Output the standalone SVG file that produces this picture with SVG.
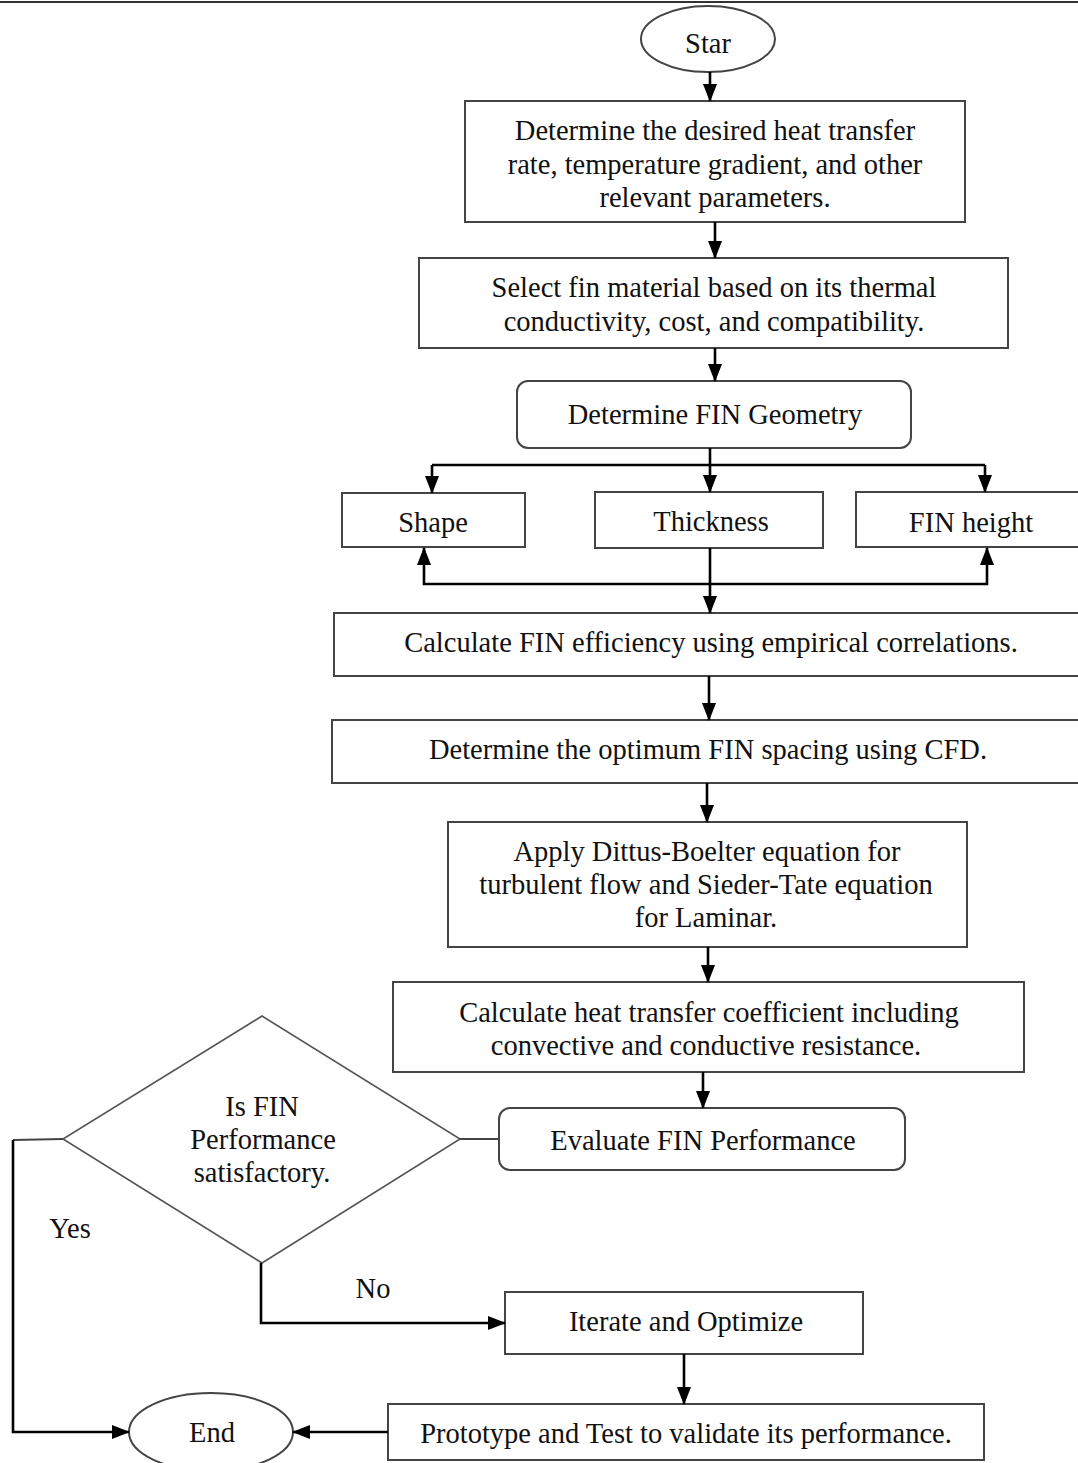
<svg xmlns="http://www.w3.org/2000/svg" width="1078" height="1463" viewBox="0 0 1078 1463">
<style>
.box{fill:#fff;stroke:#444;stroke-width:2}
.dia{fill:#fff;stroke:#555;stroke-width:1.6}
.t{font-family:"Liberation Serif","Times New Roman",serif;font-size:28.5px;fill:#111;text-anchor:middle}
.c{fill:none;stroke:#000;stroke-width:2.6}
.thin{fill:none;stroke:#444;stroke-width:1.8}
</style>
<defs>
<marker id="ah" markerUnits="userSpaceOnUse" markerWidth="18" markerHeight="14" refX="17" refY="7" orient="auto">
<path d="M0,0 L18,7 L0,14 Z" fill="#000"/>
</marker>
</defs>
<rect width="1078" height="1463" fill="#fff"/>
<line x1="0" y1="2" x2="1078" y2="2" stroke="#333" stroke-width="2"/>

<g id="start"><ellipse class="box" cx="708" cy="39" rx="67" ry="33"/><text class="t" x="708" y="53">Star</text></g>
<g id="n1"><rect class="box" x="465" y="101" width="500" height="121"/>
<text class="t" x="715" y="140">Determine the desired heat transfer</text>
<text class="t" x="715" y="174">rate, temperature gradient, and other</text>
<text class="t" x="715" y="207">relevant parameters.</text></g>
<g id="n2"><rect class="box" x="419" y="258" width="589" height="90"/>
<text class="t" x="714" y="297">Select fin material based on its thermal</text>
<text class="t" x="714" y="331">conductivity, cost, and compatibility.</text></g>
<g id="n3"><rect class="box" x="517" y="381" width="394" height="67" rx="11"/>
<text class="t" x="715" y="424">Determine FIN Geometry</text></g>
<g id="shape"><rect class="box" x="342" y="493" width="183" height="54"/><text class="t" x="433" y="532">Shape</text></g>
<g id="thickness"><rect class="box" x="595" y="492" width="228" height="56"/><text class="t" x="711" y="531">Thickness</text></g>
<g id="finheight"><rect class="box" x="856" y="492" width="226" height="55"/><text class="t" x="971" y="532">FIN height</text></g>
<g id="n4"><rect class="box" x="334" y="613" width="748" height="63"/>
<text class="t" x="711" y="652">Calculate FIN efficiency using empirical correlations.</text></g>
<g id="n5"><rect class="box" x="332" y="720" width="750" height="63"/>
<text class="t" x="708" y="759">Determine the optimum FIN spacing using CFD.</text></g>
<g id="n6"><rect class="box" x="448" y="822" width="519" height="125"/>
<text class="t" x="707" y="861">Apply Dittus-Boelter equation for</text>
<text class="t" x="706" y="894">turbulent flow and Sieder-Tate equation</text>
<text class="t" x="706" y="927">for Laminar.</text></g>
<g id="n7"><rect class="box" x="393" y="982" width="631" height="90"/>
<text class="t" x="709" y="1022">Calculate heat transfer coefficient including</text>
<text class="t" x="706" y="1055">convective and conductive resistance.</text></g>
<g id="n8"><rect class="box" x="499" y="1108" width="406" height="62" rx="11"/>
<text class="t" x="703" y="1150">Evaluate FIN Performance</text></g>
<g id="decision"><polygon class="dia" points="262,1016 460,1139 262,1263 63,1139"/>
<text class="t" x="262" y="1116">Is FIN</text>
<text class="t" x="263" y="1149">Performance</text>
<text class="t" x="262" y="1182">satisfactory.</text></g>
<g id="n9"><rect class="box" x="505" y="1292" width="358" height="62"/>
<text class="t" x="686" y="1331">Iterate and Optimize</text></g>
<g id="n10"><rect class="box" x="388" y="1404" width="596" height="56"/>
<text class="t" x="686" y="1443">Prototype and Test to validate its performance.</text></g>
<g id="end"><ellipse class="box" cx="211" cy="1432" rx="82" ry="39"/><text class="t" x="212" y="1442">End</text></g>

<g id="connectors">
<line class="c" x1="710" y1="72" x2="710" y2="101" marker-end="url(#ah)"/>
<line class="c" x1="715" y1="222" x2="715" y2="258" marker-end="url(#ah)"/>
<line class="c" x1="715" y1="348" x2="715" y2="381" marker-end="url(#ah)"/>
<line class="c" x1="710" y1="448" x2="710" y2="492" marker-end="url(#ah)"/>
<line class="c" x1="432" y1="465" x2="985" y2="465"/>
<line class="c" x1="432" y1="465" x2="432" y2="493" marker-end="url(#ah)"/>
<line class="c" x1="985" y1="465" x2="985" y2="492" marker-end="url(#ah)"/>
<line class="c" x1="710" y1="548" x2="710" y2="613" marker-end="url(#ah)"/>
<polyline class="c" points="710,584 424,584 424,548" marker-end="url(#ah)"/>
<polyline class="c" points="710,584 987,584 987,548" marker-end="url(#ah)"/>
<line class="c" x1="709" y1="676" x2="709" y2="720" marker-end="url(#ah)"/>
<line class="c" x1="707" y1="783" x2="707" y2="822" marker-end="url(#ah)"/>
<line class="c" x1="708" y1="947" x2="708" y2="982" marker-end="url(#ah)"/>
<line class="c" x1="703" y1="1072" x2="703" y2="1108" marker-end="url(#ah)"/>
<line class="thin" x1="499" y1="1139" x2="460" y2="1139"/>
<line class="thin" x1="63" y1="1139" x2="13" y2="1140"/>
<polyline class="c" points="13,1140 13,1432 129,1432" marker-end="url(#ah)"/>
<polyline class="c" points="261,1263 261,1323 505,1323" marker-end="url(#ah)"/>
<line class="c" x1="684" y1="1354" x2="684" y2="1404" marker-end="url(#ah)"/>
<line class="c" x1="388" y1="1432" x2="293" y2="1432" marker-end="url(#ah)"/>
<text class="t" x="70" y="1238">Yes</text>
<text class="t" x="373" y="1298">No</text>
</g>
</svg>
